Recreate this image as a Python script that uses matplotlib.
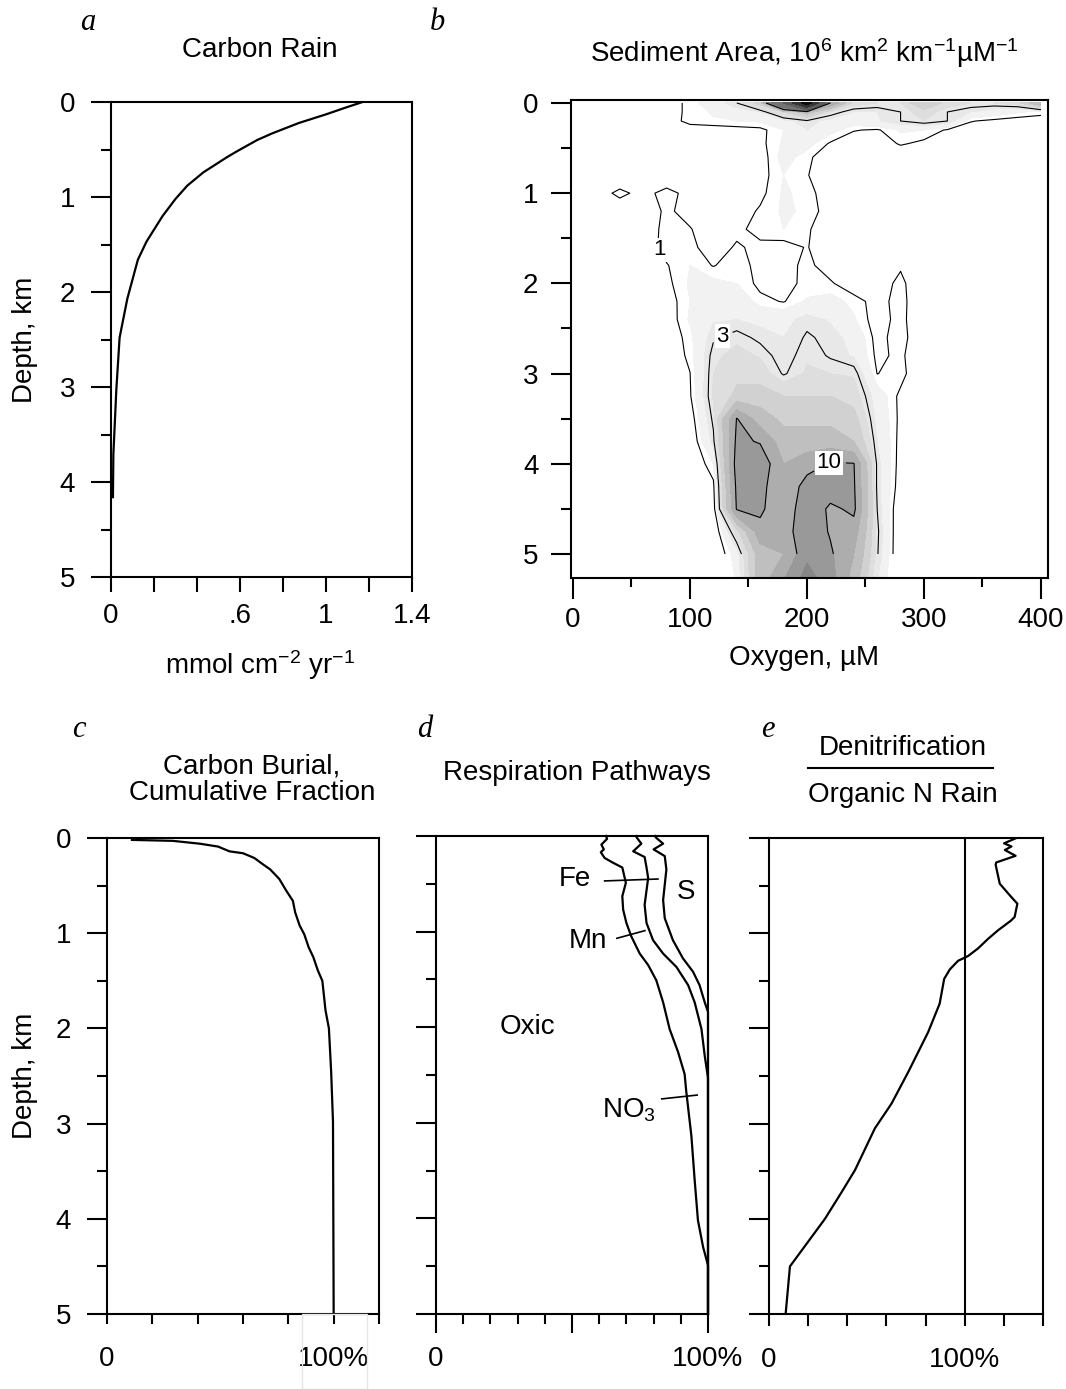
import numpy as np
import matplotlib
matplotlib.use('Agg')
import matplotlib.pyplot as plt
from matplotlib.lines import Line2D
from matplotlib.patches import Rectangle

plt.rcParams['font.family'] = ['Liberation Sans', 'DejaVu Sans']
plt.rcParams['mathtext.fontset'] = 'custom'
plt.rcParams['mathtext.rm'] = 'Liberation Sans'
plt.rcParams['mathtext.it'] = 'Liberation Sans:italic'
plt.rcParams['mathtext.bf'] = 'Liberation Sans:bold'
plt.rcParams['axes.linewidth'] = 1.5

# a: carbon rain profile
rain_depth = [0, 0.06, 0.13, 0.22, 0.33, 0.40, 0.52, 0.58, 0.74, 0.88, 1.02, 1.20, 1.29,
              1.47, 1.66, 2.07, 2.48, 3.02, 3.71, 4.16]
rain_flux = [1.17, 1.09, 1.0, 0.875, 0.75, 0.68, 0.585, 0.54, 0.43, 0.355, 0.30, 0.24, 0.215,
             0.165, 0.125, 0.076, 0.040, 0.025, 0.011, 0.009]

# b: sediment area vs oxygen and depth
oxygen = [0, 20, 40, 60, 80, 100, 120, 140, 160, 180, 200, 220, 240, 260, 280, 300, 320, 340, 360, 380, 400]
area_depth = [0.0, 0.1, 0.2, 0.3, 0.45, 0.6, 0.8, 1.0, 1.2, 1.4, 1.6, 1.8, 2.0, 2.2, 2.4, 2.6, 2.8,
              3.0, 3.25, 3.5, 3.75, 4.0, 4.25, 4.5, 4.75, 5.0, 5.3]
area = [
    [0, 0, 0, 0.4, 0.6, 1.2, 2, 3, 5, 25, 90, 10, 4, 3.5, 3.5, 6, 4, 3.5, 3.5, 4, 8],
    [0, 0, 0, 0.5, 0.8, 1.1, 1.6, 2, 2.5, 4.5, 7, 3.5, 2.5, 2.5, 3, 4, 3, 2.5, 2, 1.6, 1.3],
    [0, 0, 0, 0.2, 0.5, 1.3, 1.4, 1.5, 1.6, 2.2, 2.8, 2.2, 2, 2.4, 3, 3.5, 3, 1.05, 0.8, 0.6, 0.5],
    [0, 0, 0, 0, 0.2, 0.5, 0.6, 0.7, 0.8, 1.5, 2.5, 1.8, 1.05, 0.9, 1.6, 1.5, 0.9, 0.6, 0.4, 0.3, 0.3],
    [0, 0, 0, 0, 0, 0.2, 0.3, 0.5, 0.8, 1.6, 1.8, 0.9, 0.5, 0.5, 1.1, 0.8, 0.4, 0.2, 0.1, 0.1, 0.1],
    [0, 0, 0, 0, 0, 0.1, 0.2, 0.3, 0.6, 1.8, 1.2, 0.4, 0.2, 0.2, 0.3, 0.2, 0.1, 0, 0, 0, 0],
    [0, 0, 0, 0, 0, 0.1, 0.2, 0.3, 0.7, 1.5, 1.05, 0.4, 0.1, 0.1, 0.1, 0.1, 0, 0, 0, 0, 0],
    [0, 0.4, 1.3, 0.6, 1.4, 0.6, 0.3, 0.5, 0.8, 1.6, 1.3, 0.5, 0.1, 0.1, 0.1, 0, 0, 0, 0, 0, 0],
    [0, 0, 0.2, 0.5, 1.15, 0.7, 0.4, 0.6, 1.1, 1.6, 1.4, 0.6, 0.1, 0.1, 0, 0, 0, 0, 0, 0, 0],
    [0, 0, 0, 0.4, 1.3, 1.05, 0.5, 0.8, 1.3, 1.5, 1.1, 0.5, 0.1, 0, 0, 0, 0, 0, 0, 0, 0],
    [0, 0, 0, 0.5, 1.3, 1.2, 0.6, 1.1, 0.8, 0.7, 1.05, 0.4, 0.1, 0, 0, 0, 0, 0, 0, 0, 0],
    [0, 0, 0, 0.4, 0.95, 1.5, 0.95, 1.4, 0.7, 0.7, 1.2, 0.6, 0.3, 0.5, 0.9, 0.2, 0, 0, 0, 0, 0],
    [0, 0, 0, 0.2, 0.8, 1.6, 1.7, 1.5, 0.8, 0.8, 1.15, 1.1, 0.5, 0.6, 1.2, 0.3, 0, 0, 0, 0, 0],
    [0, 0, 0, 0.1, 0.6, 1.5, 2, 2.2, 1.2, 0.95, 1.6, 1.8, 1.3, 0.7, 1.3, 0.2, 0, 0, 0, 0, 0],
    [0, 0, 0, 0, 0.5, 1.6, 2.4, 2.5, 2.3, 2.2, 2.8, 2.4, 1.6, 0.6, 1.3, 0.1, 0, 0, 0, 0, 0],
    [0, 0, 0, 0, 0.4, 1.3, 2.9, 3.3, 2.8, 2.5, 3.1, 2.8, 2.2, 0.7, 1.4, 0.1, 0, 0, 0, 0, 0],
    [0, 0, 0, 0, 0.3, 1.2, 3.3, 3.8, 3.4, 2.6, 3.4, 2.9, 2.4, 0.8, 1.2, 0.1, 0, 0, 0, 0, 0],
    [0, 0, 0, 0, 0.2, 0.98, 3.5, 4.2, 4.0, 2.9, 3.6, 3.5, 3.4, 0.98, 1.3, 0.1, 0, 0, 0, 0, 0],
    [0, 0, 0, 0, 0.2, 0.9, 3.6, 4.8, 5, 4.5, 4.5, 4.5, 4, 2, 0.8, 0.1, 0, 0, 0, 0, 0],
    [0, 0, 0, 0, 0.1, 0.5, 3.2, 10.1, 7, 5.5, 5.5, 5.5, 5, 2.2, 0.8, 0.1, 0, 0, 0, 0, 0],
    [0, 0, 0, 0, 0, 0.2, 2.8, 10.5, 9.8, 7, 7, 7, 6, 2.5, 0.7, 0.1, 0, 0, 0, 0, 0],
    [0, 0, 0, 0, 0, 0.1, 1.5, 11, 11.5, 8, 9, 10.2, 10.1, 2.8, 0.6, 0.1, 0, 0, 0, 0, 0],
    [0, 0, 0, 0, 0, 0.1, 0.8, 10.5, 10.8, 8, 11, 11.5, 10.3, 2.8, 0.5, 0.1, 0, 0, 0, 0, 0],
    [0, 0, 0, 0, 0, 0, 0.5, 10.2, 10.5, 8, 12, 9.5, 10.5, 3, 0.1, 0, 0, 0, 0, 0, 0],
    [0, 0, 0, 0, 0, 0, 0.1, 4, 9.2, 9, 11.5, 9.8, 9, 3.2, 0, 0, 0, 0, 0, 0, 0],
    [0, 0, 0, 0, 0, 0, 0, 2, 7, 8, 11.5, 10.3, 8, 3.1, 0, 0, 0, 0, 0, 0, 0],
    [0, 0, 0, 0, 0, 0, 0, 1.6, 7, 10, 13, 11, 7, 2.5, 0, 0, 0, 0, 0, 0, 0],
]
fill_levels = [1.5, 2.5, 3.5, 4.5, 6, 8, 10, 12, 15, 25, 50, 75, 200]
fill_grays = ['0.95', '0.91', '0.87', '0.82', '0.75', '0.68', '0.6', '0.53', '0.45', '0.35', '0.2', '0.05']
line_levels = [1, 3, 10]

# c: cumulative carbon burial
burial_depth = [0.02, 0.03, 0.06, 0.09, 0.14, 0.16, 0.21, 0.28, 0.33, 0.43, 0.55, 0.66, 0.78,
                0.92, 1.01, 1.15, 1.25, 1.39, 1.5, 1.81, 2.0, 2.46, 2.98, 5.0]
burial_frac = [11, 29, 41, 49, 54, 60, 65, 69, 72, 76, 79, 82, 83, 85, 87, 89, 91, 93, 95, 96.4,
               97.9, 98.9, 99.7, 100]

# d: respiration pathways, cumulative %
oxic_depth = [0, 0.03, 0.09, 0.14, 0.17, 0.23, 0.28, 0.33, 0.49, 0.63, 0.77, 0.91, 1.05, 1.23, 1.35,
              1.51, 1.74, 2.02, 2.26, 2.49, 2.67, 3.14, 3.6, 4.02, 4.3, 4.49, 5.0]
oxic_pct = [62.5, 62.9, 60.8, 61.7, 60.6, 62, 65.1, 68.5, 69.8, 68.5, 68.8, 70, 71.8, 74.9, 78,
            81, 83.5, 85.9, 89, 91.4, 92, 93.9, 95.1, 96.3, 98.2, 100, 100]
no3_depth = [0, 0.02, 0.08, 0.16, 0.22, 0.33, 0.44, 0.72, 0.91, 1.09, 1.23, 1.37, 1.56, 1.74, 2.02,
             2.3, 2.53, 5.0]
no3_pct = [73.5, 73.9, 75.5, 72.5, 76.7, 77.4, 78, 76.7, 77.4, 79.8, 83.5, 88.4, 92.7, 95.1, 97.6,
           98.8, 100, 100]
metal_depth = [0, 0.02, 0.08, 0.14, 0.21, 0.35, 0.67, 0.86, 1.09, 1.28, 1.42, 1.56, 1.74, 1.84, 5.0]
metal_pct = [80.5, 81, 83.5, 80, 84.1, 84.7, 83.5, 84.1, 87.1, 90.8, 94.5, 96.9, 98.8, 100, 100]

# e: denitrification / organic N rain
denit_depth = [0, 0.056, 0.089, 0.126, 0.187, 0.257, 0.28, 0.48, 0.62, 0.69, 0.83, 0.87, 0.97, 1.06,
               1.16, 1.24, 1.29, 1.38, 1.48, 1.74, 2.04, 2.46, 2.79, 3.05, 3.49, 3.72, 4.0, 4.5, 5.0]
denit_pct = [126.4, 120.1, 123.9, 120.5, 126.0, 116.1, 115.8, 117.9, 123.8, 126.9, 125.5, 123.5,
             117, 111.9, 106.8, 101.7, 96.6, 92.4, 89.5, 87.2, 81.3, 71.1, 62.6, 54.1, 43.9, 37.1,
             28.6, 10.7, 8.5]

W, H = 1066, 1389
FS = 20
PT = 100 / 72  # pixels per point


def box(left, top, right, bottom):
    return [left / W, 1 - bottom / H, (right - left) / W, (bottom - top) / H]


def depth_ticks(ax, labels=True, pad=11):
    ax.set_yticks([0, 1, 2, 3, 4, 5])
    ax.set_yticks([0.5, 1.5, 2.5, 3.5, 4.5], minor=True)
    ax.tick_params(axis='y', which='major', direction='out', length=20 / PT, width=1.5,
                   pad=pad, labelsize=FS, labelleft=labels)
    ax.tick_params(axis='y', which='minor', direction='out', length=10 / PT, width=1.5)


def ftext(x, y, s, **kw):
    kw.setdefault('fontsize', FS)
    kw.setdefault('ha', 'center')
    kw.setdefault('va', 'center')
    fig.text(x / W, 1 - y / H, s, **kw)


def letter(x, y, s):
    ftext(x, y, s, family=['Liberation Serif', 'DejaVu Serif'], style='italic', fontsize=22)


fig = plt.figure(figsize=(W / 100, H / 100), dpi=100)

# panel a
ax = fig.add_axes(box(111, 102, 412, 577))
ax.plot(rain_flux, rain_depth, color='k', lw=1.6)
ax.set_xlim(0, 1.4)
ax.set_ylim(5, 0)
depth_ticks(ax, pad=11.5)
ax.set_xticks([0, 0.2, 0.4, 0.6, 0.8, 1.0, 1.2, 1.4], ['0', '', '', '.6', '', '1', '', '1.4'])
ax.tick_params(axis='x', direction='out', length=15 / PT, width=1.5, pad=8, labelsize=FS)

# panel b
ax = fig.add_axes(box(571, 100, 1048, 578))
z = np.array(area)
ax.contourf(oxygen, area_depth, z, levels=fill_levels, colors=fill_grays)
cs = ax.contour(oxygen, area_depth[:26], z[:26], levels=line_levels, colors='k', linewidths=0.8)
labs = ax.clabel(cs, line_levels, manual=[(75, 1.62), (128, 2.6), (220, 4.03)],
                 inline=True, fmt='%g', fontsize=16)
for t in labs:
    t.set_rotation(0)
    t.set_bbox(dict(facecolor='white', edgecolor='none', pad=1))
ax.set_xlim(-1.7, 406)
ax.set_ylim(5.266, -0.033)
depth_ticks(ax, pad=9)
ax.set_xticks([0, 100, 200, 300, 400])
ax.set_xticks([50, 150, 250, 350], minor=True)
ax.tick_params(axis='x', which='major', direction='out', length=21 / PT, width=1.5, pad=6, labelsize=FS)
ax.tick_params(axis='x', which='minor', direction='out', length=9 / PT, width=1.5)

# panel c
ax = fig.add_axes(box(107, 838, 379, 1314))
ax.plot(burial_frac, burial_depth, color='k', lw=1.6)
ax.set_xlim(0, 120)
ax.set_ylim(5, 0)
depth_ticks(ax, pad=11.5)
ax.set_xticks([0, 20, 40, 60, 80, 100, 120], ['0', '', '', '', '', '100%', ''])
ax.tick_params(axis='x', direction='out', length=10 / PT, width=1.5, pad=16, labelsize=FS)

# panel d
ax = fig.add_axes(box(436, 836, 708, 1314))
for d, p in [(oxic_depth, oxic_pct), (no3_depth, no3_pct), (metal_depth, metal_pct)]:
    ax.plot(p, d, color='k', lw=1.6, clip_on=False)
ax.set_xlim(0, 100)
ax.set_ylim(5, 0)
depth_ticks(ax, labels=False)
ax.set_xticks([0, 50, 100], ['0', '', '100%'])
ax.set_xticks([10, 20, 30, 40, 60, 70, 80, 90], minor=True)
ax.tick_params(axis='x', which='major', direction='out', length=19 / PT, width=1.5, pad=9, labelsize=FS)
ax.tick_params(axis='x', which='minor', direction='out', length=10 / PT, width=1.5)
ax.text(51, 0.45, 'Fe', fontsize=FS, ha='center', va='center')
ax.plot([62, 81.6], [0.47, 0.45], color='k', lw=1.2)
ax.text(92, 0.59, 'S', fontsize=FS, ha='center', va='center')
ax.text(56, 1.10, 'Mn', fontsize=FS, ha='center', va='center')
ax.plot([66.5, 76.8], [1.07, 0.99], color='k', lw=1.2)
ax.text(33.5, 2.0, 'Oxic', fontsize=FS, ha='center', va='center')
ax.text(71, 2.87, 'NO$_3$', fontsize=FS, ha='center', va='center')
ax.plot([83, 96], [2.75, 2.71], color='k', lw=1.2)

# panel e
ax = fig.add_axes(box(769, 838, 1043, 1314))
ax.plot(denit_pct, denit_depth, color='k', lw=1.6)
ax.axvline(100, color='k', lw=1.5)
ax.set_xlim(0, 140)
ax.set_ylim(5, 0)
depth_ticks(ax, labels=False)
ax.set_xticks([0, 20, 40, 60, 80, 100, 120, 140], ['0', '', '', '', '', '100%', '', ''])
ax.tick_params(axis='x', direction='out', length=12 / PT, width=1.5, pad=15, labelsize=FS)

# titles and labels
letter(88, 22, 'a')
letter(437, 22, 'b')
letter(79, 730, 'c')
letter(425, 730, 'd')
letter(768, 730, 'e')
ftext(260, 50, 'Carbon Rain')
ftext(804, 53, 'Sediment Area, 10$^6$ km$^2$ km$^{-1}$µM$^{-1}$')
ftext(252, 780, 'Carbon Burial,\nCumulative Fraction', linespacing=1.05)
ftext(577, 773, 'Respiration Pathways')
ftext(903, 748, 'Denitrification')
ftext(903, 795, 'Organic N Rain')
fig.add_artist(Line2D([808 / W, 993 / W], [1 - 768 / H, 1 - 768 / H], color='k', lw=1.5))
ftext(25, 340, 'Depth, km', rotation=90)
ftext(25, 1076, 'Depth, km', rotation=90)
ftext(260, 665, 'mmol cm$^{-2}$ yr$^{-1}$')
ftext(804, 658, 'Oxygen, µM')
fig.add_artist(Rectangle((302 / W, 1 - 1389 / H), 65 / W, 75 / H, transform=fig.transFigure,
                         fill=False, edgecolor='#e6e6e6', lw=1))

fig.savefig('out.png', dpi=100)
